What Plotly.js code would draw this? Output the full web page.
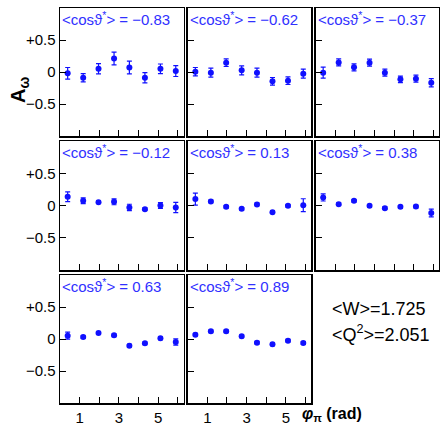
<!DOCTYPE html>
<html>
<head>
<meta charset="utf-8">
<script src="https://cdn.plot.ly/plotly-3.0.1.min.js"></script>
<style>html,body{margin:0;padding:0;background:#fff;}#chart{width:440px;height:426px;}</style>
</head>
<body>
<div id="chart"></div>
<script>
// phi_pi bin centres (rad)
const phi = [0.39, 1.18, 1.96, 2.75, 3.53, 4.32, 5.11, 5.89];
const cosLabels = ["−0.83", "−0.62", "−0.37", "−0.12", "0.13", "0.38", "0.63", "0.89"];
const A1 = [-0.02, -0.09, 0.05, 0.21, 0.07, -0.09, 0.05, 0.015];
const E1 = [0.09, 0.065, 0.08, 0.1, 0.1, 0.08, 0.075, 0.085];
const A2 = [0.005, -0.01, 0.146, 0.026, -0.01, -0.146, -0.135, -0.026];
const E2 = [0.065, 0.07, 0.06, 0.07, 0.07, 0.06, 0.06, 0.07];
const A3 = [-0.01, 0.15, 0.073, 0.146, -0.01, -0.115, -0.104, -0.167];
const E3 = [0.085, 0.055, 0.055, 0.055, 0.055, 0.05, 0.055, 0.065];
const A4 = [0.135, 0.073, 0.052, 0.057, -0.031, -0.057, 0.0, -0.031];
const E4 = [0.075, 0.045, 0.02, 0.045, 0.05, 0.02, 0.045, 0.08];
const A5 = [0.099, 0.0625, -0.02, -0.052, 0.016, -0.104, -0.005, 0.005];
const E5 = [0.094, 0.02, 0.02, 0.02, 0.02, 0.02, 0.02, 0.1];
const A6 = [0.125, 0.021, 0.073, -0.005, -0.042, -0.021, -0.016, -0.115];
const E6 = [0.055, 0.02, 0.02, 0.02, 0.02, 0.02, 0.02, 0.06];
const A7 = [0.052, 0.031, 0.094, 0.057, -0.104, -0.068, 0.01, -0.047];
const E7 = [0.055, 0.02, 0.02, 0.02, 0.02, 0.02, 0.02, 0.05];
const A8 = [0.068, 0.12, 0.12, 0.042, -0.057, -0.083, -0.026, -0.0625];
const E8 = [0.02, 0.02, 0.02, 0.02, 0.02, 0.02, 0.02, 0.02];
const xTickVals = [1, 3, 5];
const xTickText = ["1", "3", "5"];
const xMinorVals = [2, 4, 6];
const yTickVals = [-0.5, 0, 0.5];
const yTickText = ["−0.5", "0", "+0.5"];
const W_label = "&lt;W&gt;=1.725";
const Q2_label = "&lt;Q<sup>2</sup>&gt;=2.051";

const series = [[A1,E1],[A2,E2],[A3,E3],[A4,E4],[A5,E5],[A6,E6],[A7,E7],[A8,E8]];

const W = 440, H = 426;
const cols = [[60, 183.5], [187.7, 311], [315.5, 439]];
const rows = [[8, 136], [141, 270], [275, 403]];
const blue = "#1010ff";
const font = "Liberation Sans, Arial, sans-serif";

const data = [];
const layout = {
  width: W, height: H,
  margin: {l: 0, r: 0, t: 0, b: 0},
  paper_bgcolor: "#fff", plot_bgcolor: "#fff",
  showlegend: false,
  font: {family: font, size: 15, color: "#000"},
  annotations: []
};

series.forEach(([a, e], i) => {
  const r = Math.floor(i / 3), c = i % 3;
  const n = i + 1;
  const xa = "xaxis" + (n === 1 ? "" : n), ya = "yaxis" + (n === 1 ? "" : n);
  const xr = "x" + (n === 1 ? "" : n), yr = "y" + (n === 1 ? "" : n);
  data.push({
    type: "scatter", mode: "markers", x: phi, y: a,
    xaxis: xr, yaxis: yr,
    marker: {color: blue, size: 6},
    error_y: {type: "data", array: e, visible: true, color: blue, thickness: 1.2, width: 2.5}
  });
  const showX = r === 2;
  layout[xa] = {
    domain: [cols[c][0] / W, cols[c][1] / W],
    range: [0, 6.2832],
    anchor: yr,
    showgrid: false, zeroline: false,
    showline: true, linecolor: "#000", linewidth: 1.5, mirror: true,
    ticks: "inside", ticklen: 6, tickcolor: "#000", tickwidth: 1,
    tickmode: "array", tickvals: xTickVals, ticktext: xTickText,
    minor: {tickmode: "array", tickvals: xMinorVals, ticks: "inside", ticklen: 6, tickcolor: "#000", tickwidth: 1},
    showticklabels: showX,
    tickfont: {family: font, size: 15, color: "#000"}
  };
  layout[ya] = {
    domain: [1 - rows[r][1] / H, 1 - rows[r][0] / H],
    range: [-1, 1],
    anchor: xr,
    showgrid: false, zeroline: false,
    showline: true, linecolor: "#000", linewidth: 1.5, mirror: true,
    ticks: "inside", ticklen: 6, tickcolor: "#000", tickwidth: 1,
    tickmode: "array", tickvals: yTickVals, ticktext: yTickText,
    showticklabels: c === 0,
    tickfont: {family: font, size: 15, color: "#000"}
  };
  layout.annotations.push({
    xref: xr + " domain", yref: yr + " domain",
    x: 0.0, y: 1.01, xanchor: "left", yanchor: "top",
    showarrow: false,
    text: "&lt;cosϑ<sup>*</sup>&gt; = " + cosLabels[i],
    font: {family: font, size: 15, color: "#3030ff"}
  });
});

layout.annotations.push({
  xref: "paper", yref: "paper", x: 20 / W, y: 1 - 90 / H,
  xanchor: "center", yanchor: "middle", textangle: -90, showarrow: false,
  text: "<b>A<sub>ω</sub></b>", font: {family: font, size: 20, color: "#000"}
});
layout.annotations.push({
  xref: "paper", yref: "paper", x: 300 / W, y: 1 - 414 / H,
  xanchor: "left", yanchor: "middle", showarrow: false,
  text: "<b><i>φ</i><sub>π</sub> (rad)</b>", font: {family: font, size: 16, color: "#000"}
});
layout.annotations.push({
  xref: "paper", yref: "paper", x: 330 / W, y: 1 - 309 / H,
  xanchor: "left", yanchor: "middle", showarrow: false,
  text: W_label, font: {family: font, size: 18, color: "#000"}
});
layout.annotations.push({
  xref: "paper", yref: "paper", x: 330 / W, y: 1 - 333 / H,
  xanchor: "left", yanchor: "middle", showarrow: false,
  text: Q2_label, font: {family: font, size: 18, color: "#000"}
});

Plotly.newPlot("chart", data, layout, {displayModeBar: false, staticPlot: true});
</script>
</body>
</html>
